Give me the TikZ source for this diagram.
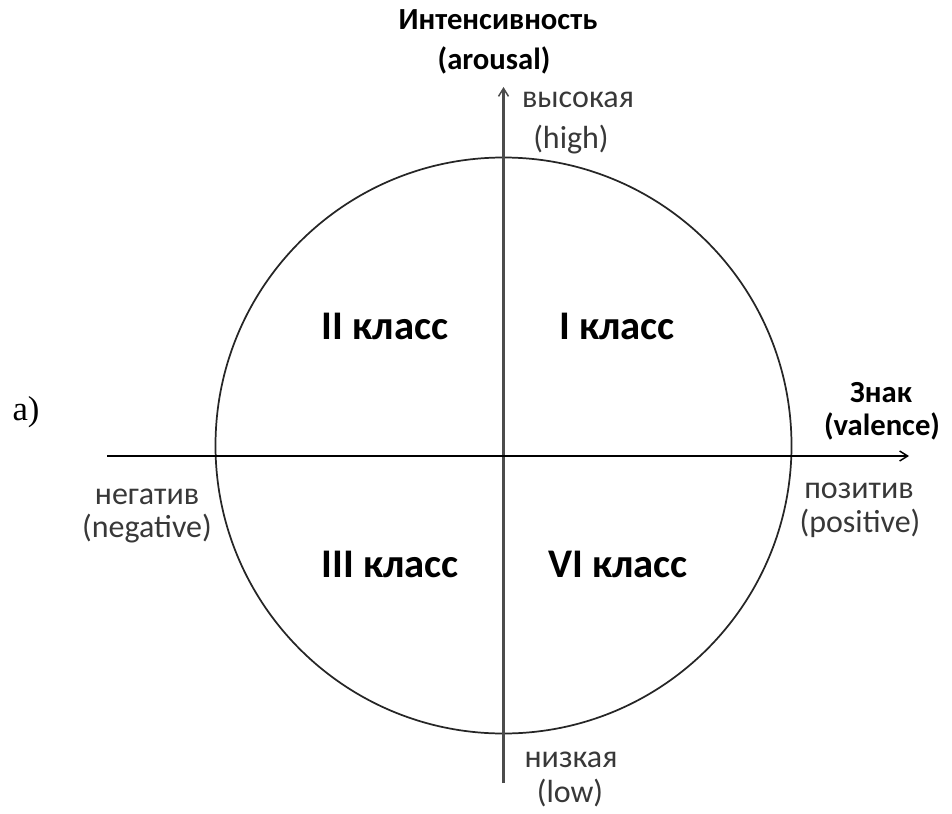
\documentclass[tikz,border=0pt]{standalone}
\usepackage{fontspec}
\setmainfont{Carlito}
\newfontfamily\serifletter{Liberation Serif}
\usetikzlibrary{arrows.meta}

\tikzset{
  axisline/.style={line width=1.4pt, -{Straight Barb[length=6pt,width=7.5pt,line width=1.1pt]}},
  ring/.style={draw=black!85, line width=1.3pt},
  axistitle/.style={anchor=base, inner sep=0pt, font=\bfseries\fontsize{23}{27}\selectfont, text=black},
  polelabel/.style={anchor=base, inner sep=0pt, font=\fontsize{24}{28}\selectfont, text=black!78},
  classlabel/.style={anchor=base, inner sep=0pt, font=\bfseries\fontsize{30.5}{36}\selectfont, text=black},
}

\begin{document}
\begin{tikzpicture}[x=0.75pt, y=-0.75pt]
  \useasboundingbox (0,0) rectangle (952,813);

  % circle of the emotion plane
  \coordinate (centre) at (503.5,445.5);
  \draw[ring] (centre) circle[radius=288];

  % axes
  \coordinate (vbottom) at (503.5,783);
  \coordinate (vtop) at (503.5,87);
  \coordinate (hleft) at (107,456);
  \coordinate (hright) at (909,456);
  \draw[axisline, draw=black!70, line width=1.8pt] (vbottom) -- (vtop);
  \draw[axisline] (hleft) -- (hright);

  % axis titles
  \node[axistitle] (arousal1) at (498,30) {Интенсивность};
  \node[axistitle] (arousal2) at (494,70) {(arousal)};
  \node[axistitle] (valence1) at (881,402) {Знак};
  \node[axistitle] (valence2) at (882,435) {(valence)};

  % pole labels
  \node[polelabel] (high1) at (578,108) {высокая};
  \node[polelabel] (high2) at (571,148) {(high)};
  \node[polelabel] (low1) at (571,767) {низкая};
  \node[polelabel] (low2) at (570,802) {(low)};
  \node[polelabel] (neg1) at (147,504) {негатив};
  \node[polelabel] (neg2) at (147,537) {(negative)};
  \node[polelabel] (pos1) at (859,498) {позитив};
  \node[polelabel] (pos2) at (860,532) {(positive)};

  % quadrant classes
  \node[classlabel] (q2) at (385,339) {II класс};
  \node[classlabel] (q1) at (617,339) {I класс};
  \node[classlabel] (q3) at (390,577) {III класс};
  \node[classlabel] (q4) at (618,577) {VI класс};

  % panel letter
  \node[anchor=base, inner sep=0pt, font=\serifletter\fontsize{26}{30}\selectfont] (panel) at (26,420) {а)};
\end{tikzpicture}
\end{document}
